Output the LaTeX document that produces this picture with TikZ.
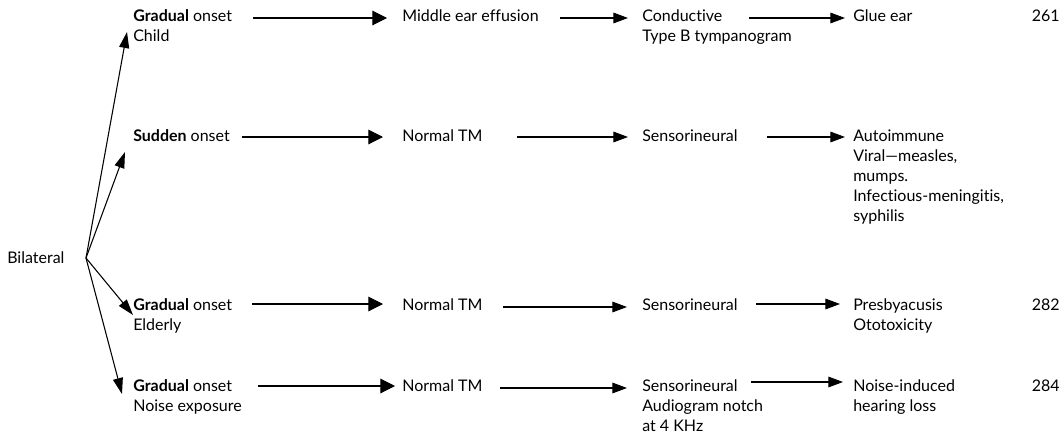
\documentclass[tikz,border=0pt]{standalone}
\usepackage{fontspec}
\setmainfont{Lato}[Ligatures={NoCommon}]
\usetikzlibrary{arrows.meta}
\newcommand\stacklines[1]{\begin{tabular}[t]{@{}l@{}}#1\end{tabular}}
\begin{document}
\begin{tikzpicture}[x=0.75pt,y=-0.75pt,
  txt/.style={anchor=base west, inner sep=0pt, font=\fontsize{12}{15}\selectfont},
  num/.style={anchor=base east, inner sep=0pt, font=\fontsize{12}{15}\selectfont},
  ln/.style={line width=0.8pt},
  arrA/.style={ln,-{Triangle[length=11pt,width=11pt]}},
  arrB/.style={ln,-{Triangle[length=11pt,width=8pt]}},
  arrF/.style={ln,-{Triangle[length=12pt,width=7.5pt]}}]
\useasboundingbox (0,0) rectangle (1064,433);
% texts
\node[txt] (bil) at (7,263) {Bilateral};
\node[txt] (g1) at (133,21.7) {\stacklines{\textbf{Gradual} onset\\Child}};
\node[txt] (s2) at (133,141.7) {\textbf{Sudden} onset};
\node[txt] (g3) at (133,310) {\stacklines{\textbf{Gradual} onset\\Elderly}};
\node[txt] (g4) at (133,391.7) {\stacklines{\textbf{Gradual} onset\\Noise exposure}};
\node[txt] (m1) at (402,21.7) {Middle ear effusion};
\node[txt] (m2) at (402,141.7) {Normal TM};
\node[txt] (m3) at (402,310) {Normal TM};
\node[txt] (m4) at (402,391.7) {Normal TM};
\node[txt] (c1) at (642,21.7) {\stacklines{Conductive\\Type B tympanogram}};
\node[txt] (c2) at (642,141.7) {Sensorineural};
\node[txt] (c3) at (642,310.5) {Sensorineural};
\node[txt] (c4) at (642,391.7) {\stacklines{Sensorineural\\Audiogram notch\\at 4 KHz}};
\node[txt] (d1) at (853,21.7) {Glue ear};
\node[txt] (d2) at (853,141.7) {\stacklines{Autoimmune\\Viral—measles,\\mumps.\\Infectious-meningitis,\\syphilis}};
\node[txt] (d3) at (853,310.5) {\stacklines{Presbyacusis\\Ototoxicity}};
\node[txt] (d4) at (853,391.7) {\stacklines{Noise-induced\\hearing loss}};
\node[num] (n1) at (1060,21.7) {261};
\node[num] (n3) at (1060,310.5) {282};
\node[num] (n4) at (1060,391.7) {284};
% fan
\coordinate (fo) at (86,258);
\coordinate (f1) at (127,32);
\coordinate (f2) at (125,152);
\coordinate (f3) at (133,315);
\coordinate (f4) at (122,394);
\draw[arrF] (fo) -- (f1);
\draw[arrF] (fo) -- (f2);
\draw[arrF] (fo) -- (f3);
\draw[arrF] (fo) -- (f4);
% row 1
\coordinate (a1s) at (253,18); \coordinate (a1e) at (387,18);
\coordinate (b1s) at (560,18); \coordinate (b1e) at (628,18);
\coordinate (c1s) at (749,18); \coordinate (c1e) at (845,18);
\draw[arrA] (a1s) -- (a1e);
\draw[arrB] (b1s) -- (b1e);
\draw[arrB] (c1s) -- (c1e);
% row 2
\coordinate (a2s) at (242,137); \coordinate (a2e) at (383,137);
\coordinate (b2s) at (517,137); \coordinate (b2e) at (628,137);
\coordinate (c2s) at (767,137); \coordinate (c2e) at (845,137);
\draw[arrA] (a2s) -- (a2e);
\draw[arrB] (b2s) -- (b2e);
\draw[arrB] (c2s) -- (c2e);
% row 3
\coordinate (a3s) at (252,304); \coordinate (a3e) at (383,304);
\coordinate (b3s) at (503,307); \coordinate (b3e) at (627,307);
\coordinate (c3s) at (756,304); \coordinate (c3e) at (840,304);
\draw[arrA] (a3s) -- (a3e);
\draw[arrB] (b3s) -- (b3e);
\draw[arrB] (c3s) -- (c3e);
% row 4
\coordinate (a4s) at (258,386); \coordinate (a4e) at (395,386);
\coordinate (b4s) at (500,388); \coordinate (b4e) at (627,388);
\coordinate (c4s) at (751,382); \coordinate (c4e) at (843,382);
\draw[arrA] (a4s) -- (a4e);
\draw[arrB] (b4s) -- (b4e);
\draw[arrB] (c4s) -- (c4e);
\end{tikzpicture}
\end{document}
